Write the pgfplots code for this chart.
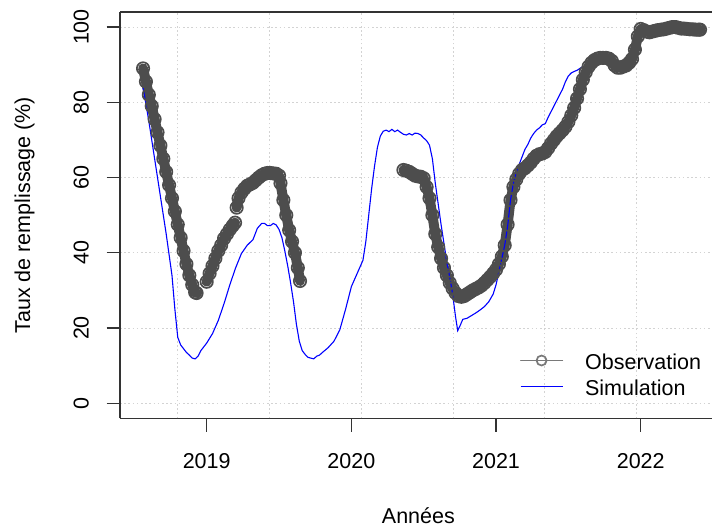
\documentclass[border=0pt]{standalone}
\usepackage{fontspec}
\setmainfont{Liberation Sans}
\usepackage{pgfplots}
\pgfplotsset{compat=1.18}
\usepackage{pgfplotstable}
\definecolor{obs}{HTML}{4D4D4D}
\definecolor{gridc}{HTML}{D3D3D3}
\definecolor{axc}{HTML}{333333}

\pgfplotstableread{
x y
2018.56 89
2018.58 85.5
2018.60 82
2018.62 79
2018.64 75.5
2018.66 72
2018.68 68.5
2018.70 65
2018.72 61.5
2018.74 58
2018.76 54.5
2018.78 51
2018.80 47.5
2018.82 44
2018.84 40.5
2018.86 37
2018.88 34
2018.90 31.5
2018.92 29.5
2018.93 29.3
2018.96 nan
2019.00 32.3
2019.02 34.5
2019.04 36.5
2019.06 38.5
2019.08 40.5
2019.10 42
2019.12 43.8
2019.14 45
2019.16 46.2
2019.18 47.2
2019.196 48
2019.202 nan
2019.207 52
2019.22 54.5
2019.24 56
2019.26 57
2019.28 57.8
2019.30 58.2
2019.32 58.6
2019.34 59.3
2019.36 60
2019.38 60.6
2019.40 61
2019.42 61.2
2019.44 61.2
2019.46 61.1
2019.48 61
2019.50 60.5
2019.51 58.5
2019.53 54
2019.55 50
2019.57 46
2019.59 43
2019.61 40
2019.63 36
2019.645 32.5
2020.00 nan
2020.36 62
2020.38 61.8
2020.40 61.5
2020.42 61
2020.44 60.5
2020.46 60.3
2020.48 60.2
2020.50 59.8
2020.52 57.5
2020.54 54.5
2020.56 50
2020.58 45
2020.60 41.5
2020.62 38.5
2020.64 36
2020.66 34
2020.68 32
2020.70 30.5
2020.72 29.3
2020.74 28.5
2020.76 28.3
2020.78 28.5
2020.80 29
2020.82 29.5
2020.84 30
2020.86 30.4
2020.88 30.8
2020.90 31.3
2020.92 32
2020.94 32.8
2020.96 33.6
2020.98 34.5
2021.00 35.5
2021.02 37
2021.04 39
2021.06 42
2021.08 47.5
2021.10 54
2021.12 57.5
2021.14 59.5
2021.16 61
2021.18 62
2021.20 62.5
2021.22 63.2
2021.24 64
2021.26 65
2021.28 65.8
2021.30 66.2
2021.32 66.4
2021.34 66.8
2021.36 67.8
2021.38 69
2021.40 70
2021.42 71
2021.44 71.8
2021.46 72.6
2021.48 73.5
2021.50 74.8
2021.52 76.5
2021.54 78.5
2021.56 81
2021.58 83.5
2021.60 86
2021.62 88
2021.64 89.5
2021.66 90.5
2021.68 91.2
2021.70 91.6
2021.72 91.8
2021.74 91.8
2021.76 91.8
2021.78 91.6
2021.80 91
2021.82 89.8
2021.84 89.2
2021.86 89.2
2021.88 89.5
2021.90 89.8
2021.92 90.5
2021.94 91.5
2021.96 94
2021.98 97.5
2022.00 99.5
2022.02 99.2
2022.04 98.8
2022.06 98.6
2022.08 98.8
2022.10 99
2022.12 99.2
2022.14 99.3
2022.16 99.4
2022.18 99.6
2022.20 99.8
2022.22 100
2022.24 100
2022.26 99.8
2022.28 99.6
2022.30 99.6
2022.32 99.5
2022.34 99.4
2022.36 99.4
2022.38 99.3
2022.40 99.3
2022.41 99.3
}\obsdata

\pgfplotstableread{
x y
2018.56 84
2018.60 75
2018.64 65
2018.68 55
2018.72 45
2018.76 34
2018.78 25
2018.80 17.5
2018.82 15.5
2018.84 14.5
2018.86 13.5
2018.88 12.8
2018.90 12
2018.92 11.8
2018.94 12.5
2018.96 14
2018.98 15
2019.00 16
2019.04 18.5
2019.08 22
2019.12 26.5
2019.16 31.5
2019.20 36
2019.24 39.8
2019.28 42
2019.32 43.5
2019.35 46.5
2019.38 47.8
2019.40 47.8
2019.42 47.2
2019.44 47.2
2019.46 47.8
2019.48 47.4
2019.50 46.2
2019.52 44
2019.54 40.5
2019.56 36.5
2019.58 32
2019.60 27
2019.62 21
2019.64 16.5
2019.66 14
2019.68 13
2019.70 12.2
2019.72 12
2019.74 11.8
2019.76 12.5
2019.78 12.8
2019.80 13.5
2019.84 14.8
2019.88 16.5
2019.92 19.5
2019.96 25
2020.00 31
2020.04 34.5
2020.08 38
2020.10 43
2020.12 50
2020.14 57
2020.16 63
2020.18 68
2020.20 71
2020.22 72.3
2020.24 72.6
2020.26 72.2
2020.28 72.8
2020.30 72.2
2020.32 72.6
2020.34 72
2020.36 71.5
2020.38 71.3
2020.40 71.7
2020.42 71.3
2020.44 71.8
2020.46 71.7
2020.48 71.3
2020.50 70.5
2020.52 69.8
2020.54 68.6
2020.56 65
2020.58 58.5
2020.60 53
2020.62 47.5
2020.64 42.5
2020.66 37.5
2020.68 33.5
2020.70 29
2020.72 23
2020.735 19.3
2020.75 20.5
2020.77 22.3
2020.80 22.6
2020.83 23.3
2020.86 24
2020.89 24.8
2020.92 25.7
2020.95 27
2020.98 29
2021.00 31.5
2021.02 35
2021.04 38.5
2021.06 42
2021.08 47
2021.10 54
2021.12 58.5
2021.14 61.5
2021.16 63.5
2021.18 65.5
2021.20 67.5
2021.22 68.8
2021.24 70.5
2021.26 71.7
2021.28 72.6
2021.30 73.2
2021.32 74
2021.34 74.3
2021.36 76
2021.38 77.5
2021.40 79
2021.42 80.5
2021.44 82
2021.46 83.5
2021.48 85.5
2021.50 87
2021.52 87.8
2021.54 88.2
2021.56 88.5
2021.58 89
2021.60 89.5
}\simdata

\begin{document}
\begin{tikzpicture}
\begin{axis}[
  at={(120bp,109.7bp)}, anchor=south west,
  scale only axis, width=592bp, height=406.3bp,
  xmin=2018.4007, xmax=2022.4928, ymin=-4, ymax=104,
  axis x line*=bottom, axis y line*=left,
  axis line style={axc, line width=1.1bp},
  xtick={2019,2020,2021,2022}, xticklabels={2019,2020,2021,2022},
  ytick={0,20,40,60,80,100}, yticklabels={0,20,40,60,80,100},
  tick align=outside, major tick length=13.5bp,
  tick style={axc, line width=1.1bp},
  ymajorgrids, xmajorgrids=false,
  grid style={gridc, line width=0.9bp, dash pattern=on 1.6bp off 2.6bp},
  extra x ticks={2018.7996,2019.4341,2020.0687,2020.7032,2021.3378,2021.9723},
  extra x tick labels={},
  extra x tick style={xmajorgrids=true, major tick length=0pt},
  font=\fontsize{21.5bp}{26bp}\selectfont,
  /pgf/number format/assume math mode=true,
  xticklabel style={anchor=base, inner sep=0pt},
  yticklabel style={rotate=90, anchor=base, inner sep=0pt},
  xticklabel shift=36.5bp, yticklabel shift=18bp,
  xlabel={Années}, ylabel={Taux de remplissage (\%)},
  xlabel style={at={(axis description cs:0.504,-0.2584)}, anchor=base, inner sep=0pt},
  ylabel style={at={(axis description cs:-0.152,0.5)}, anchor=base, inner sep=0pt},
  unbounded coords=jump,
  legend style={draw=none, fill=none, at={(axis description cs:0.6757,0.157)},
    anchor=north west, inner sep=0pt, outer sep=0pt, row sep=0pt, column sep=22bp,
    nodes={inner sep=0pt, text height=15bp, text depth=11bp},
    font=\fontsize{21.5bp}{26bp}\selectfont},
  legend cell align=left,
  legend image code/.code={\draw[mark repeat=2,mark phase=2,#1] plot coordinates {(0bp,7bp) (21bp,7bp) (42bp,7bp)};},
]
\addplot[obs, line width=10bp, line join=round, line cap=round, mark=o, mark size=6.2bp,
  mark options={line width=1.7bp, solid},
  legend image post style={line width=1bp, obs!75, mark size=5bp}] table[x=x,y=y] {\obsdata};
\addlegendentry{Observation}
\addplot[blue, line width=1.1bp, mark=none] table[x=x,y=y] {\simdata};
\addlegendentry{Simulation}
\draw[axc, line width=1.1bp] (rel axis cs:0,1) -- (rel axis cs:1,1);
\end{axis}
\pgfresetboundingbox
\path[use as bounding box] (0bp,0bp) rectangle (712bp,528bp);
\end{tikzpicture}
\end{document}
